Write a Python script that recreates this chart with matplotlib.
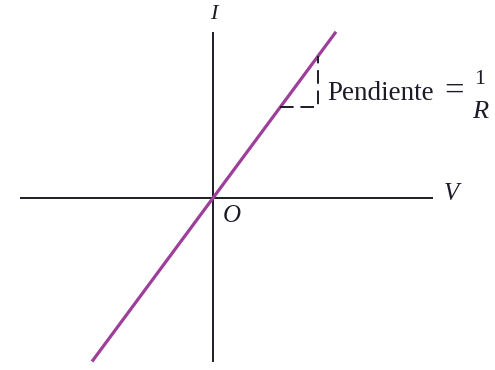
import matplotlib
matplotlib.use("Agg")
import matplotlib.pyplot as plt
import numpy as np

# Ohm's law: I = V / R, a straight line through the origin
R = 0.74
V_LINE = np.array([-1.21, 1.23])
I_LINE = V_LINE / R

# slope triangle drawn under the line
V_TRI = np.array([0.67, 1.05])
I_TRI = V_TRI / R

# extent of the drawn axes
V_AXIS = [-1.93, 2.20]
I_AXIS = [-1.64, 1.66]

INK = "#1c1c28"
PURPLE = "#9d3e99"

plt.rcParams["font.family"] = ["Liberation Serif", "DejaVu Serif"]

fig = plt.figure(figsize=(4.95, 3.70), dpi=100)
ax = fig.add_axes([0, 0, 1, 1])
ax.set_xlim(-2.13, 2.82)
ax.set_ylim(-1.72, 1.98)
ax.axis("off")

ax.plot(V_AXIS, [0, 0], color=INK, lw=1.4, solid_capstyle="butt")
ax.plot([0, 0], I_AXIS, color=INK, lw=1.4, solid_capstyle="butt")

ax.plot(V_LINE, I_LINE, color=PURPLE, lw=2.3, solid_capstyle="butt")

ax.plot([V_TRI[0], V_TRI[1], V_TRI[1]], [I_TRI[0], I_TRI[0], I_TRI[1]],
        color=INK, lw=1.4, dashes=(7, 3.5))

ax.text(1.14, 0.98, "Pendiente", fontsize=19.5, color=INK, ha="left", va="baseline")
ax.text(2.41, 1.06, "=", fontsize=25, color=INK, ha="center", va="center")
ax.text(2.67, 1.14, "1", fontsize=16, color=INK, ha="center", va="baseline")
ax.text(2.67, 0.80, "R", fontsize=19, style="italic", color=INK, ha="center", va="baseline")

ax.text(2.38, 0.04, "V", fontsize=18, style="italic", color=INK, ha="center", va="center")
ax.text(0.19, -0.18, "O", fontsize=18, style="italic", color=INK, ha="center", va="center")
ax.text(0.01, 1.84, "I", fontsize=16, style="italic", color=INK, ha="center", va="center")

fig.savefig("out.png", dpi=100)
